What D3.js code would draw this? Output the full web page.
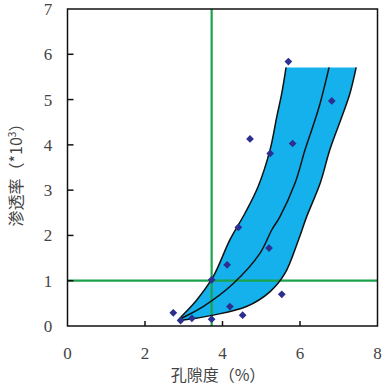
<!DOCTYPE html>
<html><head><meta charset="utf-8">
<script src="https://cdn.jsdelivr.net/npm/d3@7"></script>
<style>html,body{margin:0;padding:0;background:#fff;}svg{display:block;}</style>
</head><body>
<svg id="c" width="386" height="388"></svg>
<script>
// Data
const xTicks = [0, 2, 4, 6, 8];
const yTicks = [0, 1, 2, 3, 4, 5, 6, 7];
const xLabel = "孔隙度（%）";
const yLabelMain = "渗透率（*10";
const yLabelSup = "3";
const yLabelEnd = "）";
// band boundaries [porosity, permeability]
const leftCurve = [[2.85,0.12],[2.90,0.17],[3.33,0.57],[3.76,1.09],[4.19,1.90],[4.58,2.49],[4.92,3.08],[5.23,3.90],[5.40,4.62],[5.53,5.14],[5.64,5.71]];
const midCurve = [[2.85,0.12],[2.90,0.15],[3.50,0.43],[4.28,0.94],[4.97,1.61],[5.27,2.12],[5.48,2.41],[5.87,3.15],[6.13,3.89],[6.33,4.40],[6.52,4.92],[6.75,5.71]];
const rightCurve = [[2.85,0.12],[2.99,0.13],[3.76,0.24],[4.62,0.43],[5.23,0.76],[5.61,1.16],[5.96,1.90],[6.17,2.41],[6.52,3.15],[6.77,3.89],[7.08,4.62],[7.29,5.14],[7.45,5.71]];
const pointsX = [5.70, 6.82, 4.71, 5.23, 5.81, 4.41, 5.20, 4.12, 5.53, 4.19, 4.52, 2.73, 3.72, 3.21, 2.92, 3.72];
const pointsY = [5.84, 4.97, 4.13, 3.81, 4.03, 2.18, 1.72, 1.35, 0.70, 0.43, 0.24, 0.29, 0.15, 0.17, 0.12, 1.02];
const cutoffX = [3.72];
const cutoffY = [1];

const svg = d3.select("#c");
const L = 67.5, R = 377.5, T = 9, B = 326;
const x = d3.scaleLinear().domain([0, 8]).range([L, R]);
const y = d3.scaleLinear().domain([0, 7]).range([B, T]);

const line = d3.line().x(d => x(d[0])).y(d => y(d[1])).curve(d3.curveCatmullRom);
// band fill: left curve up, straight top edge, right curve down
const leftD = line(leftCurve);
const rightD = line(rightCurve.slice().reverse());
svg.append("path")
  .attr("d", leftD + "L" + rightD.slice(1) + "Z")
  .attr("fill", "#14b1ec").attr("stroke", "none");

// green cutoff lines
svg.selectAll(".vx").data(cutoffX).enter().append("line")
  .attr("x1", d => x(d)).attr("x2", d => x(d)).attr("y1", T).attr("y2", B)
  .attr("stroke", "#1ca24c").attr("stroke-width", 2.2);
svg.selectAll(".hy").data(cutoffY).enter().append("line")
  .attr("x1", L).attr("x2", R).attr("y1", d => y(d)).attr("y2", d => y(d))
  .attr("stroke", "#1ca24c").attr("stroke-width", 2.2);

// curves
[leftCurve, midCurve, rightCurve].forEach(c => {
  svg.append("path").attr("d", line(c)).attr("fill", "none")
    .attr("stroke", "#111").attr("stroke-width", 1.5);
});

// diamonds
const diamond = d3.symbol().type(d3.symbolSquare).size(30);
svg.selectAll(".pt").data(pointsX.map((v, i) => [v, pointsY[i]])).enter().append("path")
  .attr("d", diamond)
  .attr("transform", d => `translate(${x(d[0])},${y(d[1])}) rotate(45)`)
  .attr("fill", "#2c2f8f");

// frame
svg.append("rect").attr("x", L).attr("y", T).attr("width", R - L).attr("height", B - T)
  .attr("fill", "none").attr("stroke", "#111").attr("stroke-width", 1.5);

// ticks
svg.selectAll(".xt").data(xTicks.slice(1, -1)).enter().append("line")
  .attr("x1", d => x(d)).attr("x2", d => x(d)).attr("y1", B).attr("y2", B - 5)
  .attr("stroke", "#111").attr("stroke-width", 1.5);
svg.selectAll(".yt").data(yTicks.slice(1, -1)).enter().append("line")
  .attr("x1", L).attr("x2", L + 6).attr("y1", d => y(d)).attr("y2", d => y(d))
  .attr("stroke", "#111").attr("stroke-width", 1.5);

const font = "'Liberation Serif', 'DejaVu Serif', serif";
svg.selectAll(".xl").data(xTicks).enter().append("text")
  .attr("x", d => x(d)).attr("y", 359).attr("text-anchor", "middle")
  .attr("font-family", font).attr("font-size", 17).attr("fill", "#444").text(d => d);
svg.selectAll(".yl").data(yTicks).enter().append("text")
  .attr("x", 48).attr("y", d => y(d) + 6).attr("text-anchor", "middle")
  .attr("font-family", font).attr("font-size", 17).attr("fill", "#444").text(d => d);

// axis titles
svg.append("text").attr("x", 218).attr("y", 381).attr("text-anchor", "middle")
  .attr("font-family", "'Noto Sans CJK SC', sans-serif").attr("font-size", 16)
  .attr("fill", "#444").text(xLabel);
const yt = svg.append("text").attr("transform", "translate(22,171) rotate(-90)")
  .attr("text-anchor", "middle")
  .attr("font-family", "'Noto Sans CJK SC', sans-serif").attr("font-size", 16).attr("fill", "#444");
yt.append("tspan").text(yLabelMain);
yt.append("tspan").attr("font-size", 10).attr("dy", -6).text(yLabelSup);
yt.append("tspan").attr("dy", 6).text(yLabelEnd);
</script>
</body></html>
